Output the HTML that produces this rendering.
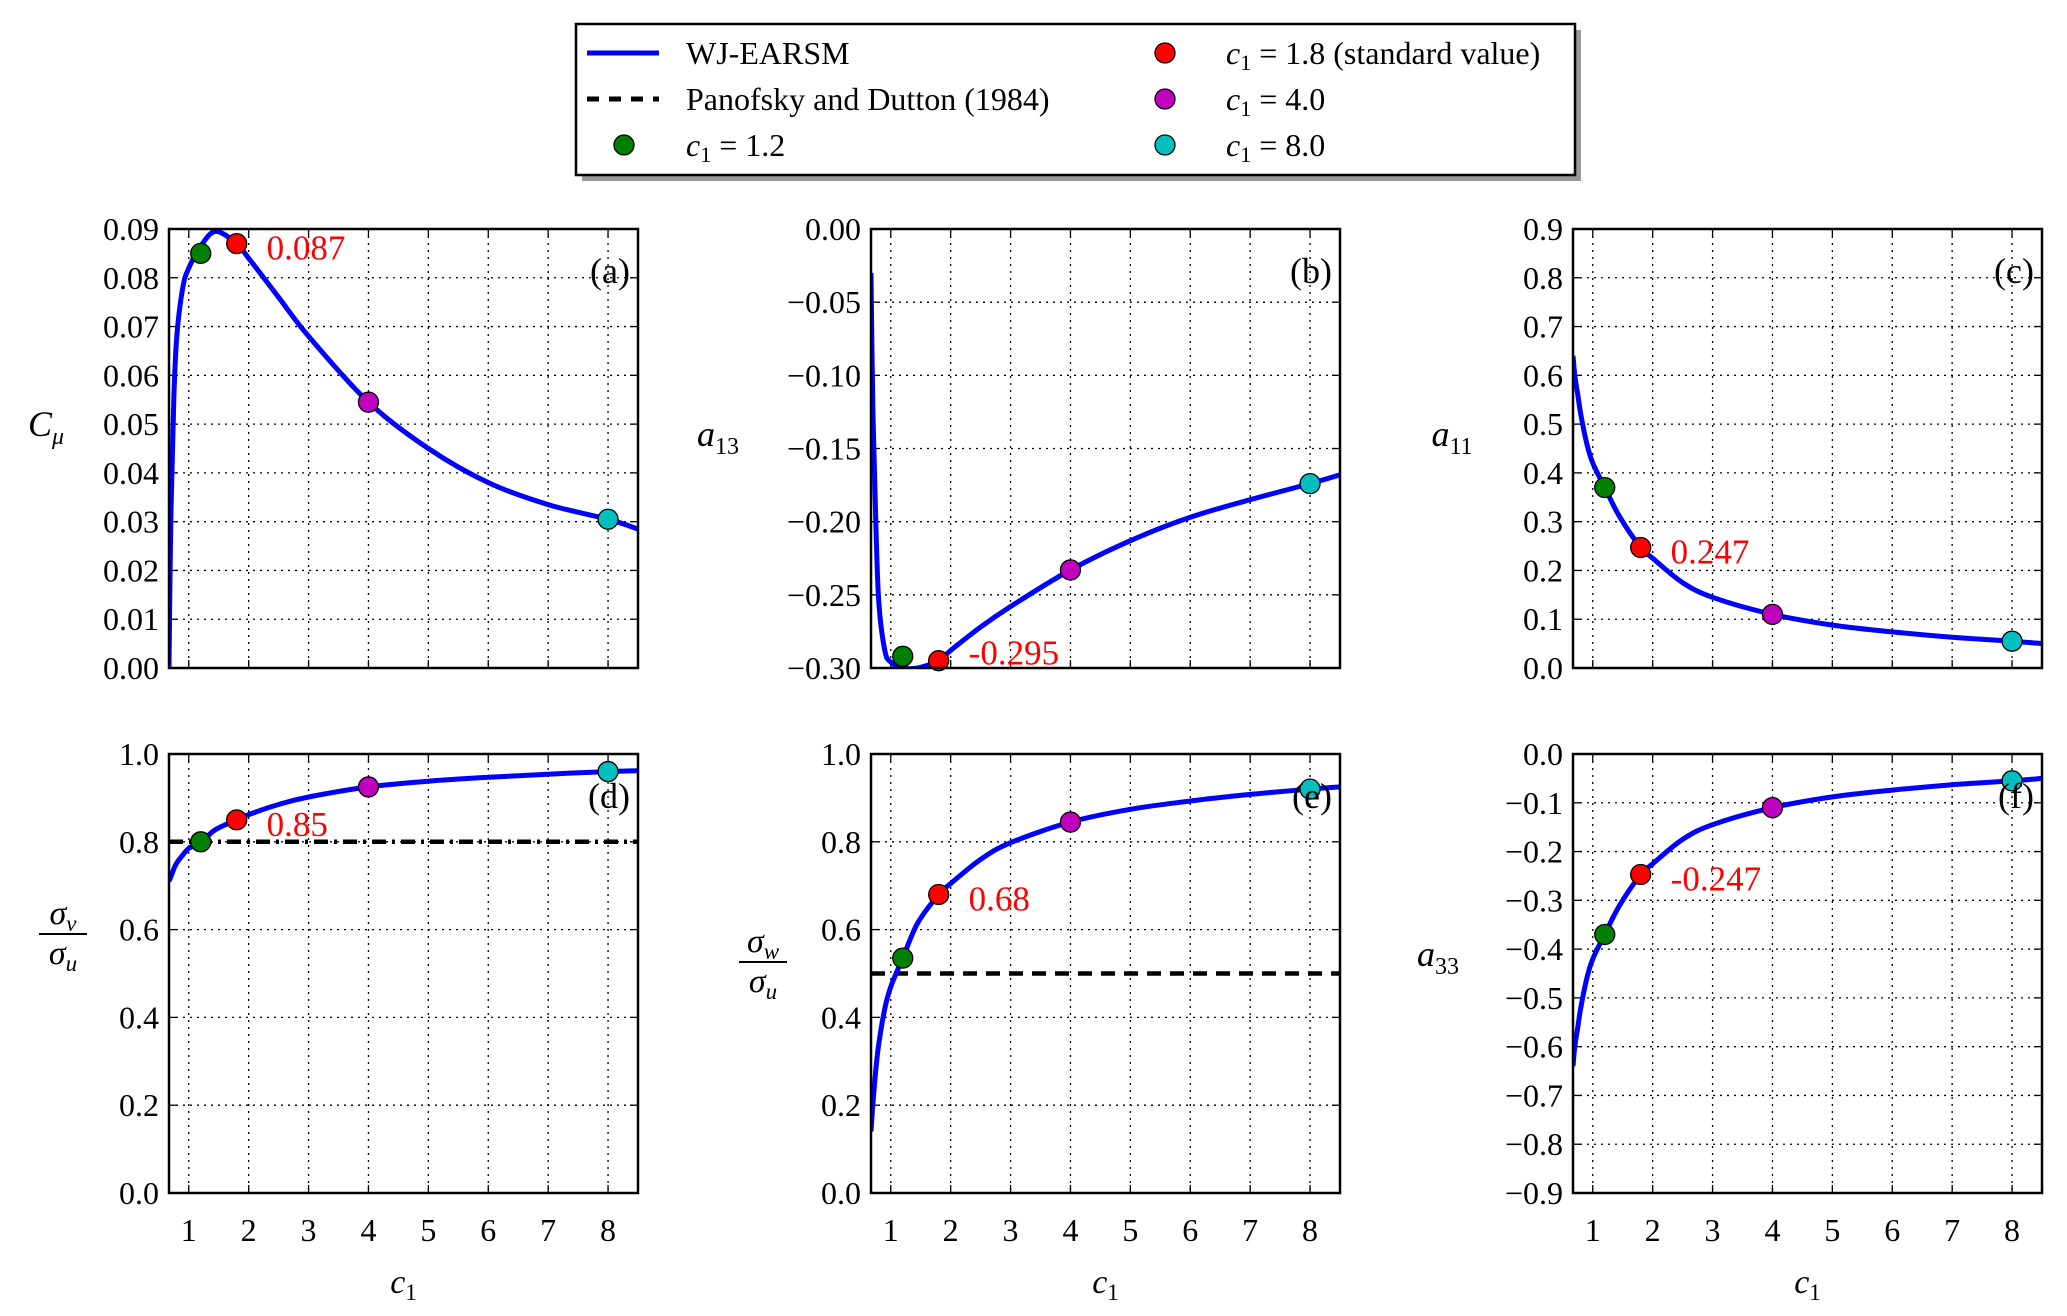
<!DOCTYPE html>
<html><head><meta charset="utf-8">
<style>
html,body{margin:0;padding:0;background:#fff;}
svg{display:block;font-family:"Liberation Serif",serif;}
</style></head>
<body>
<svg id="chart" width="2067" height="1316" viewBox="0 0 2067 1316" xmlns="http://www.w3.org/2000/svg">
  <g id="legend">
    <rect x="582" y="30" width="999" height="151" fill="#999"/>
    <rect x="576" y="24" width="999" height="151" fill="#fff" stroke="#000" stroke-width="2.5"/>
    <g>
      <line x1="587" y1="53" x2="659" y2="53" stroke="#0000ff" stroke-width="5"/>
      <text x="686" y="64" font-size="32">WJ-EARSM</text>
    </g>
    <g>
      <line x1="587" y1="99" x2="659" y2="99" stroke="#000" stroke-width="5" stroke-dasharray="12,10"/>
      <text x="686" y="110" font-size="32">Panofsky and Dutton (1984)</text>
    </g>
    <g>
      <circle cx="624" cy="145" r="10" fill="#007f00" stroke="#000" stroke-width="1.3"/>
      <text x="686" y="156" font-size="32"><tspan font-style="italic">c</tspan><tspan font-size="22" dy="6">1</tspan><tspan dy="-6"> = 1.2</tspan></text>
    </g>
    <g>
      <circle cx="1165" cy="53" r="10" fill="#ff0000" stroke="#000" stroke-width="1.3"/>
      <text x="1226" y="64" font-size="32"><tspan font-style="italic">c</tspan><tspan font-size="22" dy="6">1</tspan><tspan dy="-6"> = 1.8 (standard value)</tspan></text>
    </g>
    <g>
      <circle cx="1165" cy="99" r="10" fill="#bf00bf" stroke="#000" stroke-width="1.3"/>
      <text x="1226" y="110" font-size="32"><tspan font-style="italic">c</tspan><tspan font-size="22" dy="6">1</tspan><tspan dy="-6"> = 4.0</tspan></text>
    </g>
    <g>
      <circle cx="1165" cy="145" r="10" fill="#00bfbf" stroke="#000" stroke-width="1.3"/>
      <text x="1226" y="156" font-size="32"><tspan font-style="italic">c</tspan><tspan font-size="22" dy="6">1</tspan><tspan dy="-6"> = 8.0</tspan></text>
    </g>
  </g>
</svg>
<script>
// ---- data ----
const curveX = [0.67, 0.7, 0.75, 0.8, 0.9, 1.0, 1.2, 1.45, 1.8, 2.0, 2.5, 3.0, 4.0, 5.0, 6.0, 7.0, 8.0, 8.5];
const cmuCurve  = [0.0, 0.03, 0.055, 0.068, 0.078, 0.082, 0.0865, 0.0895, 0.087, 0.084, 0.076, 0.068, 0.0545, 0.045, 0.038, 0.0335, 0.0305, 0.0285];
const a13Curve  = [-0.03, -0.12, -0.2, -0.255, -0.288, -0.296, -0.3, -0.3, -0.295, -0.288, -0.272, -0.258, -0.233, -0.213, -0.197, -0.185, -0.174, -0.168];
const a11Curve  = [0.64, 0.6, 0.56, 0.52, 0.46, 0.42, 0.37, 0.31, 0.247, 0.225, 0.175, 0.145, 0.11, 0.088, 0.074, 0.063, 0.055, 0.05];
const svCurve   = [0.71, 0.72, 0.738, 0.752, 0.77, 0.785, 0.80, 0.828, 0.85, 0.862, 0.885, 0.902, 0.925, 0.938, 0.947, 0.954, 0.96, 0.962];
const swCurve   = [0.14, 0.2, 0.28, 0.34, 0.42, 0.47, 0.535, 0.615, 0.68, 0.705, 0.76, 0.798, 0.845, 0.874, 0.893, 0.908, 0.92, 0.925];
const a33Curve  = [-0.64, -0.6, -0.56, -0.52, -0.46, -0.42, -0.37, -0.31, -0.247, -0.225, -0.175, -0.145, -0.11, -0.088, -0.074, -0.063, -0.055, -0.05];
const markerC1 = [1.2, 1.8, 4.0, 8.0];
const markerColors = ["#007f00", "#ff0000", "#bf00bf", "#00bfbf"];
const cmuMarks = [0.085, 0.087, 0.0545, 0.0305];
const a13Marks = [-0.292, -0.295, -0.233, -0.174];
const a11Marks = [0.37, 0.247, 0.11, 0.055];
const svMarks  = [0.80, 0.85, 0.925, 0.96];
const swMarks  = [0.535, 0.68, 0.845, 0.92];
const a33Marks = [-0.37, -0.247, -0.11, -0.055];
const annotations = ["0.087", "-0.295", "0.247", "0.85", "0.68", "-0.247"];
const refLines = [null, null, null, 0.8, 0.5, null];
const xTicks = [1, 2, 3, 4, 5, 6, 7, 8];
const cmuTicks = [0, 0.01, 0.02, 0.03, 0.04, 0.05, 0.06, 0.07, 0.08, 0.09];
const a13Ticks = [-0.30, -0.25, -0.20, -0.15, -0.10, -0.05, 0.0];
const a11Ticks = [0, 0.1, 0.2, 0.3, 0.4, 0.5, 0.6, 0.7, 0.8, 0.9];
const sigTicks = [0, 0.2, 0.4, 0.6, 0.8, 1.0];
const a33Ticks = [-0.9, -0.8, -0.7, -0.6, -0.5, -0.4, -0.3, -0.2, -0.1, 0.0];

const NS = "http://www.w3.org/2000/svg";
const svg = document.getElementById("chart");
function mk(tag, attrs, parent) {
  const e = document.createElementNS(NS, tag);
  for (const k in attrs) e.setAttribute(k, attrs[k]);
  (parent || svg).appendChild(e);
  return e;
}
function smoothPath(pts) {
  let d = "M" + pts[0][0].toFixed(1) + "," + pts[0][1].toFixed(1);
  for (let i = 0; i < pts.length - 1; i++) {
    const p0 = pts[Math.max(0, i - 1)], p1 = pts[i], p2 = pts[i + 1], p3 = pts[Math.min(pts.length - 1, i + 2)];
    const c1x = p1[0] + (p2[0] - p0[0]) / 6, c1y = p1[1] + (p2[1] - p0[1]) / 6;
    const c2x = p2[0] - (p3[0] - p1[0]) / 6, c2y = p2[1] - (p3[1] - p1[1]) / 6;
    d += " C" + c1x.toFixed(1) + "," + c1y.toFixed(1) + " " + c2x.toFixed(1) + "," + c2y.toFixed(1) + " " + p2[0].toFixed(1) + "," + p2[1].toFixed(1);
  }
  return d;
}
const lefts = [169, 871, 1573], W = 469;
const tops = [229, 754], H = 439;
const panels = [
  {id:"a", curve:cmuCurve, marks:cmuMarks, ticks:cmuTicks, dec:2, ymin:0, ymax:0.09},
  {id:"b", curve:a13Curve, marks:a13Marks, ticks:a13Ticks, dec:2, ymin:-0.3, ymax:0},
  {id:"c", curve:a11Curve, marks:a11Marks, ticks:a11Ticks, dec:1, ymin:0, ymax:0.9},
  {id:"d", curve:svCurve, marks:svMarks, ticks:sigTicks, dec:1, ymin:0, ymax:1},
  {id:"e", curve:swCurve, marks:swMarks, ticks:sigTicks, dec:1, ymin:0, ymax:1},
  {id:"f", curve:a33Curve, marks:a33Marks, ticks:a33Ticks, dec:1, ymin:-0.9, ymax:0}
];
const XMIN = 0.67, XMAX = 8.5;
panels.forEach((p, i) => {
  const L = lefts[i % 3], T = tops[Math.floor(i / 3)];
  const xs = v => L + (v - XMIN) / (XMAX - XMIN) * W;
  const ys = v => T + H - (v - p.ymin) / (p.ymax - p.ymin) * H;
  const g = mk("g", {});
  
  
  const clipId = "clip" + p.id;
  const cp = mk("clipPath", {id: clipId}, g);
  mk("rect", {x: L, y: T, width: W, height: H}, cp);
  xTicks.forEach(t => {
    const gl = mk("line", {x1: xs(t), x2: xs(t), y1: T, y2: T + H, stroke: "#000", "stroke-width": 1.3, "stroke-dasharray": "2,5"}, g);
    
    
    mk("line", {x1: xs(t), x2: xs(t), y1: T + H, y2: T + H - 8, stroke: "#000", "stroke-width": 1.3}, g);
    mk("line", {x1: xs(t), x2: xs(t), y1: T, y2: T + 8, stroke: "#000", "stroke-width": 1.3}, g);
    if (i >= 3) {
      const tl = mk("text", {x: xs(t), y: T + H + 48, "font-size": 32, "text-anchor": "middle"}, g);
      tl.textContent = t;
      
      
    }
  });
  p.ticks.forEach(t => {
    const y = ys(t);
    if (Math.abs(y - T) > 1 && Math.abs(y - T - H) > 1) {
      const gl = mk("line", {x1: L, x2: L + W, y1: y, y2: y, stroke: "#000", "stroke-width": 1.3, "stroke-dasharray": "2,5"}, g);
      
      
    }
    mk("line", {x1: L, x2: L + 8, y1: y, y2: y, stroke: "#000", "stroke-width": 1.3}, g);
    mk("line", {x1: L + W, x2: L + W - 8, y1: y, y2: y, stroke: "#000", "stroke-width": 1.3}, g);
    const tl = mk("text", {x: L - 10, y: y + 11, "font-size": 32, "text-anchor": "end"}, g);
    tl.textContent = (t < 0 ? "\u2212" : "") + Math.abs(t).toFixed(p.dec);
    
    
  });
  if (refLines[i] !== null) {
    const rl = mk("line", {x1: L, x2: L + W, y1: ys(refLines[i]), y2: ys(refLines[i]), stroke: "#000", "stroke-width": 4.5,
      "stroke-dasharray": i === 3 ? "14,6,3,6" : "14,9"}, g);
    
    
  }
  const pts = curveX.map((x, k) => [xs(x), ys(p.curve[k])]);
  const path = mk("path", {d: smoothPath(pts), fill: "none", stroke: "#0000ff", "stroke-width": 5, "stroke-linejoin": "round", "clip-path": "url(#" + clipId + ")"}, g);
  
  
  markerC1.forEach((c, k) => {
    const m = mk("circle", {cx: xs(c), cy: ys(p.marks[k]), r: 10, fill: markerColors[k], stroke: "#000", "stroke-width": 1.3}, g);
    
    
  });
  const an = mk("text", {x: xs(markerC1[1]) + 30, y: ys(p.marks[1]) + (i === 1 ? 4 : 16), "font-size": 35, fill: "#ff0000"}, g);
  an.textContent = annotations[i];
  
  
  const pl = mk("text", {x: L + W - 8, y: T + 54, "font-size": 36, "text-anchor": "end"}, g);
  pl.textContent = "(" + p.id + ")";
  
  
  const fr = mk("rect", {x: L, y: T, width: W, height: H, fill: "none", stroke: "#000", "stroke-width": 2.5}, g);
  
  
  if (i >= 3) {
    const xl = mk("text", {x: L + W / 2, y: T + H + 100, "font-size": 34, "font-style": "italic", "text-anchor": "middle"}, g);
    xl.innerHTML = 'c<tspan font-size="23" dy="7" font-style="normal">1</tspan>';
    
    
  }
});
function ylab(x, y, main, sub, name) {
  const t = mk("text", {x: x, y: y, "font-size": 36, "font-style": "italic", "text-anchor": "middle"});
  t.innerHTML = main + '<tspan font-size="24" dy="8" font-style="' + (sub === "\u03bc" ? "italic" : "normal") + '">' + sub + '</tspan>';
  
  
}
ylab(46, 436, "C", "\u03bc", "y-axis-title-cmu");
ylab(718, 446, "a", "13", "y-axis-title-a13");
ylab(1452, 446, "a", "11", "y-axis-title-a11");
ylab(1438, 966, "a", "33", "y-axis-title-a33");
function frac(x, y, top, name) {
  const g = mk("g", {});
  
  
  const t1 = mk("text", {x: x, y: y - 10, "font-size": 34, "font-style": "italic", "text-anchor": "middle"}, g);
  t1.innerHTML = '\u03c3<tspan font-size="23" dy="7">' + top + '</tspan>';
  mk("line", {x1: x - 24, x2: x + 24, y1: y, y2: y, stroke: "#000", "stroke-width": 2}, g);
  const t2 = mk("text", {x: x, y: y + 30, "font-size": 34, "font-style": "italic", "text-anchor": "middle"}, g);
  t2.innerHTML = '\u03c3<tspan font-size="23" dy="7">u</tspan>';
}
frac(63, 934, "v", "y-axis-title-sigma-v-ratio");
frac(763, 962, "w", "y-axis-title-sigma-w-ratio");
</script>
</body></html>
